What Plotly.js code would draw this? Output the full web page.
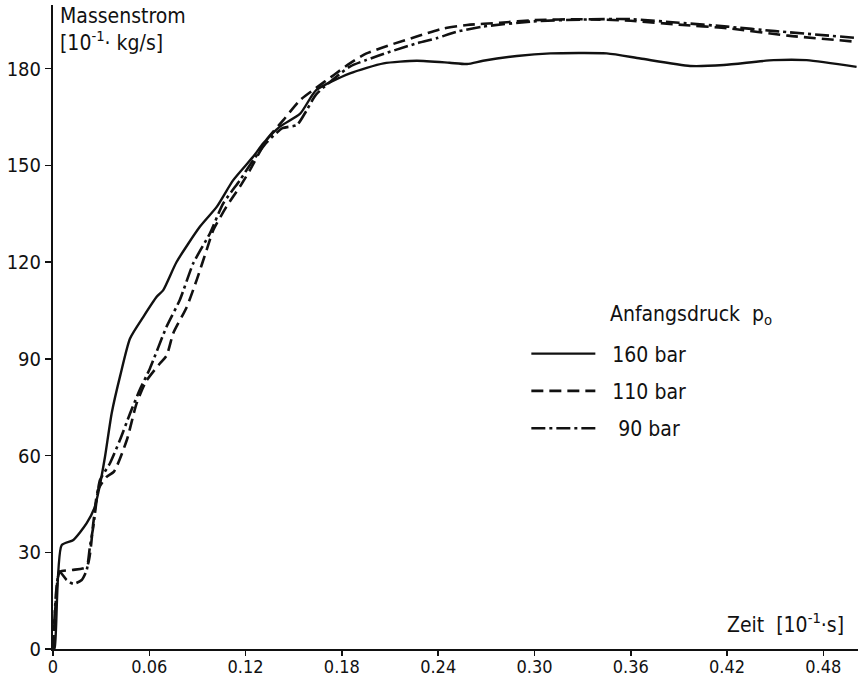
<!DOCTYPE html>
<html>
<head>
<meta charset="utf-8">
<script src="https://cdn.plot.ly/plotly-3.0.1.min.js"></script>
<style>
  html, body { margin: 0; padding: 0; background: #fff; }
  #chart { width: 861px; height: 678px; }
</style>
</head>
<body>
<div id="chart"></div>
<script>
// Zeit in 10^-1 s, Massenstrom in 10^-1 kg/s
const t160 = [0, 0.001, 0.0054, 0.0127, 0.021, 0.026, 0.029, 0.0324, 0.0366, 0.042, 0.048, 0.0563, 0.0646, 0.0687, 0.077, 0.0916, 0.102, 0.1123, 0.1248, 0.131, 0.1414, 0.154, 0.164, 0.185, 0.206, 0.2266, 0.247, 0.258, 0.268, 0.289, 0.31, 0.345, 0.366, 0.397, 0.418, 0.449, 0.4696, 0.5007];
const m160 = [0, 0.3, 32.2, 33.8, 39, 44, 50.3, 59.6, 73.2, 85, 96.3, 103, 109.2, 111.3, 120, 131, 137.1, 145.4, 152.7, 156.8, 162, 166, 173.3, 178.5, 181.6, 182.4, 181.8, 181.4, 182.4, 183.9, 184.7, 184.7, 183.1, 180.8, 181.1, 182.6, 182.6, 180.5];

const t110 = [0, 0.003, 0.0044, 0.012, 0.021, 0.0251, 0.028, 0.0334, 0.038, 0.046, 0.052, 0.058, 0.0667, 0.0708, 0.075, 0.0833, 0.0895, 0.0957, 0.0999, 0.108, 0.1165, 0.1227, 0.133, 0.1435, 0.154, 0.164, 0.175, 0.185, 0.195, 0.21, 0.2266, 0.243, 0.258, 0.2785, 0.30, 0.33, 0.36, 0.39, 0.42, 0.458, 0.5007];
const m110 = [0, 22, 24, 24.5, 25.5, 39, 49.3, 53.4, 55, 64.8, 76, 83, 88.6, 91, 98, 106, 114.4, 123.7, 129.9, 137.1, 143.4, 148.5, 157.8, 164, 170.2, 174, 178, 181.6, 184.6, 187.3, 189.9, 192.4, 193.5, 194.2, 195, 195.3, 194.8, 193.6, 192.5, 190.2, 188.3];

const t90 = [0, 0.002, 0.004, 0.0085, 0.0127, 0.0179, 0.021, 0.023, 0.0251, 0.0272, 0.0293, 0.0355, 0.0417, 0.048, 0.054, 0.0604, 0.0708, 0.079, 0.0874, 0.0978, 0.106, 0.1165, 0.1248, 0.133, 0.143, 0.152, 0.158, 0.164, 0.185, 0.195, 0.21, 0.2266, 0.239, 0.2515, 0.268, 0.299, 0.33, 0.36, 0.39, 0.42, 0.45, 0.5007];
const m90 = [0, 18, 24, 21.4, 20.2, 21.4, 24.5, 31.7, 37.9, 46.2, 52.4, 57.6, 64.8, 73, 80.3, 87, 100, 108.2, 119.6, 128.9, 138.1, 145.4, 151.6, 157, 161.5, 162.5, 167, 172, 180.6, 182.6, 185.2, 187.8, 189.4, 191.4, 193, 194.6, 195.2, 195.3, 194.2, 193, 191.6, 189.5];

const seriesNames = ['\u00a0\u00a0160 bar', '\u00a0\u00a0110 bar', '\u00a0\u00a0\u00a090 bar'];
const xTickVals = [0, 0.06, 0.12, 0.18, 0.24, 0.30, 0.36, 0.42, 0.48];
const xTickText = ['0', '0.06', '0.12', '0.18', '0.24', '0.30', '0.36', '0.42', '0.48'];
const yTickVals = [0, 30, 60, 90, 120, 150, 180];
const yTickText = ['0', '30', '60', '90', '120', '150', '180'];

const FONT = 'DejaVu Sans Condensed, DejaVu Sans, sans-serif';
const FS = 21;
const INK = '#111';

const traces = [
  {x: t160, y: m160, name: seriesNames[0], legendgroup: 'a', mode: 'lines',
   line: {color: INK, width: 2.4, shape: 'spline', smoothing: 0.6}},
  {x: t110, y: m110, name: seriesNames[1], legendgroup: 'b', mode: 'lines',
   line: {color: INK, width: 2.6, dash: '12px,6px', shape: 'spline', smoothing: 0.6}},
  {x: t90, y: m90, name: seriesNames[2], legendgroup: 'c', mode: 'lines',
   line: {color: INK, width: 2.6, dash: '14px,4px,3px,4px', shape: 'spline', smoothing: 0.6}}
];

const layout = {
  width: 861, height: 678,
  margin: {l: 53, r: 3, t: 5, b: 29},
  paper_bgcolor: '#fff', plot_bgcolor: '#fff',
  font: {family: FONT, size: FS, color: INK},
  showlegend: true,
  legend: {
    x: 0.588, y: 0.49, xanchor: 'left', yanchor: 'top',
    bgcolor: 'rgba(0,0,0,0)', borderwidth: 0,
    font: {family: FONT, size: FS, color: INK},
    itemwidth: 64, tracegroupgap: 7, traceorder: 'grouped'
  },
  xaxis: {
    range: [0, 0.5016], showgrid: false, zeroline: false,
    showline: true, linecolor: INK, linewidth: 2,
    ticks: 'outside', ticklen: 5, tickwidth: 1.5, tickcolor: INK,
    ticklabelstandoff: -5,
    tickvals: xTickVals, ticktext: xTickText,
    tickfont: {family: FONT, size: 18, color: INK}
  },
  yaxis: {
    range: [0, 199.7], showgrid: false, zeroline: false,
    showline: true, linecolor: INK, linewidth: 2,
    ticks: 'outside', ticklen: 6, tickwidth: 1.5, tickcolor: INK,
    tickvals: yTickVals, ticktext: yTickText,
    tickfont: {family: FONT, size: 20, color: INK}
  },
  annotations: [
    {xref: 'paper', yref: 'paper', x: 0.006, y: 1.005, xanchor: 'left', yanchor: 'top',
     align: 'left', showarrow: false,
     text: 'Massenstrom<br>[10<sup>-1</sup>· kg/s]', font: {family: FONT, size: FS, color: INK}},
    {xref: 'paper', yref: 'paper', x: 0.985, y: 0.015, xanchor: 'right', yanchor: 'bottom',
     showarrow: false,
     text: 'Zeit  [10<sup>-1</sup>·s]', font: {family: FONT, size: FS, color: INK}},
    {xref: 'paper', yref: 'paper', x: 0.69, y: 0.518, xanchor: 'left', yanchor: 'middle',
     showarrow: false,
     text: 'Anfangsdruck  p<sub>o</sub>', font: {family: FONT, size: FS, color: INK}}
  ]
};

Plotly.newPlot('chart', traces, layout, {displayModeBar: false, staticPlot: true});
</script>
</body>
</html>
